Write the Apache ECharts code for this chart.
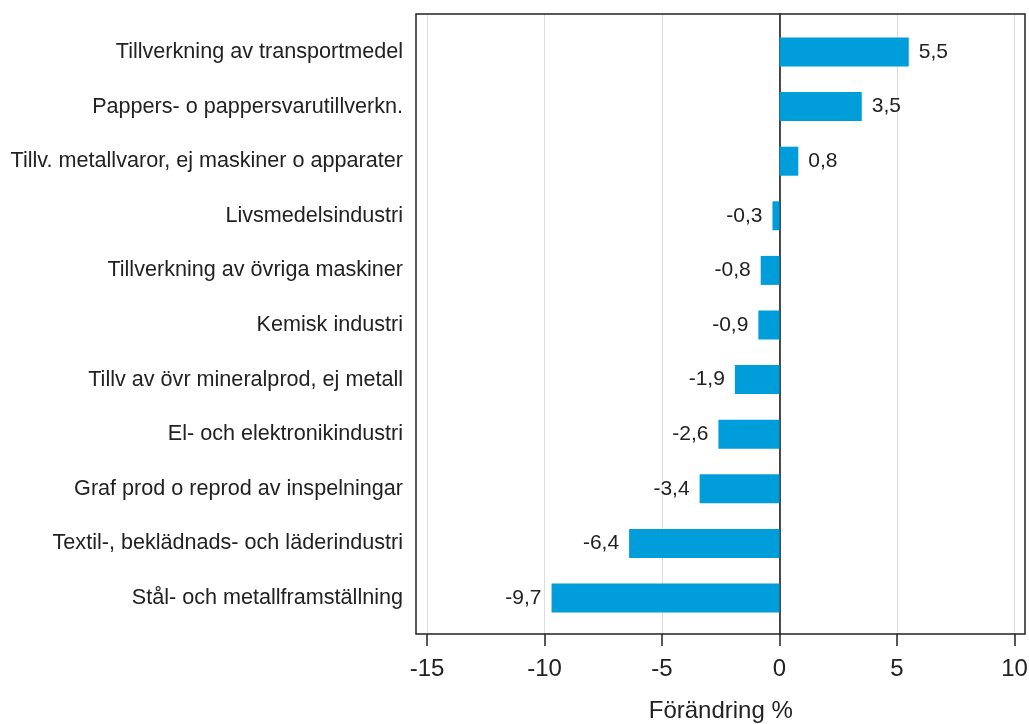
<!DOCTYPE html>
<html>
<head>
<meta charset="utf-8">
<script src="https://cdn.jsdelivr.net/npm/echarts@6/dist/echarts.min.js"></script>
<style>
  html, body { margin: 0; padding: 0; background: #fff; }
  #chart { width: 1029px; height: 724px; }
</style>
</head>
<body>
<div id="chart"></div>
<script>
const categories = [
  'Tillverkning av transportmedel',
  'Pappers- o pappersvarutillverkn.',
  'Tillv. metallvaror, ej maskiner o apparater',
  'Livsmedelsindustri',
  'Tillverkning av övriga maskiner',
  'Kemisk industri',
  'Tillv av övr mineralprod, ej metall',
  'El- och elektronikindustri',
  'Graf prod o reprod av inspelningar',
  'Textil-, beklädnads- och läderindustri',
  'Stål- och metallframställning'
]
const changes = [5.5, 3.5, 0.8, -0.3, -0.8, -0.9, -1.9, -2.6, -3.4, -6.4, -9.7]
const xMin = -15
const xMax = 10
const xStep = 5
const axisTitle = 'Förändring %'

const font = '"Liberation Sans", Arial, sans-serif'
const fmt = v => String(v).replace('.', ',')

const myChart = echarts.init(document.getElementById('chart'))

myChart.setOption({
  backgroundColor: '#fff',
  animation: false,
  grid: [
    // frame grid: gridlines, ticks, zero line
    { left: 427, right: 14.5, top: 14, bottom: 90, outerBoundsMode: 'none' },
    // bar grid
    { left: 427, right: 14.5, top: 24.7, bottom: 98.7, outerBoundsMode: 'none' }
  ],
  xAxis: [
    {
      gridIndex: 0, type: 'value', position: 'bottom',
      min: xMin, max: xMax, interval: xStep,
      axisLine: { show: false, onZero: false },
      axisTick: { show: true, inside: false, length: 12, lineStyle: { color: '#222', width: 1.5 } },
      splitLine: { show: true, lineStyle: { color: '#dcdcdc', width: 1 } },
      axisLabel: { color: '#222', fontFamily: font, fontSize: 24, margin: 23 },
      name: axisTitle, nameLocation: 'middle', nameGap: 65,
      nameTextStyle: { color: '#222', fontFamily: font, fontSize: 24 }
    },
    {
      gridIndex: 1, type: 'value', min: xMin, max: xMax, interval: xStep,
      show: false
    }
  ],
  yAxis: [
    {
      gridIndex: 0, type: 'category', data: categories, inverse: true,
      axisLine: { show: true, onZero: true, lineStyle: { color: '#111', width: 1.5 } },
      axisTick: { show: false }, axisLabel: { show: false }, splitLine: { show: false }
    },
    {
      gridIndex: 1, type: 'category', data: categories, inverse: true,
      axisLine: { show: false }, axisTick: { show: false },
      axisLabel: { color: '#222', fontFamily: font, fontSize: 21.6, margin: 24 }
    }
  ],
  series: [{
    type: 'bar',
    xAxisIndex: 1, yAxisIndex: 1,
    data: changes.map(v => ({
      value: v,
      // negative bars carry their label on the left
      label: { position: v < 0 ? 'left' : 'right' }
    })),
    barWidth: 29,
    itemStyle: { color: '#009ddb' },
    label: {
      show: true,
      color: '#222', fontFamily: font, fontSize: 21,
      distance: 10,
      formatter: p => fmt(p.value)
    }
  }],
  graphic: [{
    type: 'rect', z: 100, silent: true,
    shape: { x: 416, y: 14, width: 609, height: 620 },
    style: { fill: 'none', stroke: '#222', lineWidth: 1.5 }
  }]
})
</script>
</body>
</html>
